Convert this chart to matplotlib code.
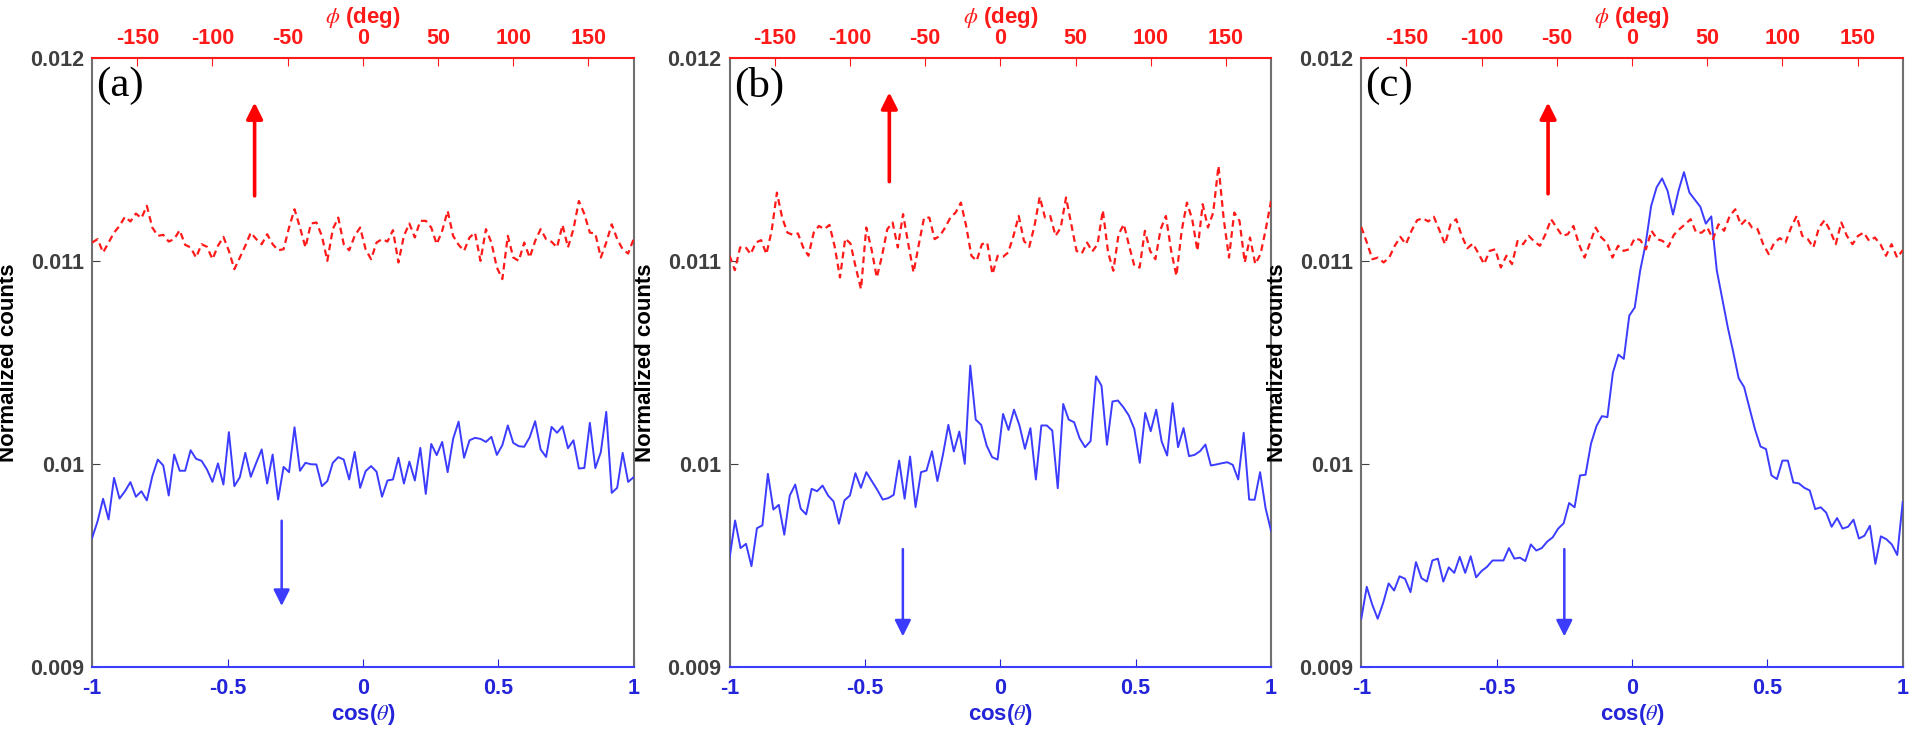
import numpy as np
import matplotlib
matplotlib.use('Agg')
import matplotlib.pyplot as plt

# normalized counts vs cos(theta) (blue) and vs phi (red)
blue_a = [0.009636, 0.009718, 0.009828, 0.009726, 0.009931, 0.009829, 0.009865, 0.009910, 0.009838, 0.009865,
          0.009820, 0.009939, 0.010021, 0.009992, 0.009844, 0.010046, 0.009966, 0.009966, 0.010067, 0.010025,
          0.010015, 0.009972, 0.009911, 0.010002, 0.009898, 0.010156, 0.009890, 0.009934, 0.010054, 0.009936,
          0.010005, 0.010071, 0.009903, 0.010046, 0.009824, 0.009985, 0.009959, 0.010180, 0.009966, 0.010005,
          0.009998, 0.009997, 0.009890, 0.009915, 0.010005, 0.010033, 0.010021, 0.009923, 0.010059, 0.009882,
          0.009964, 0.009989, 0.009961, 0.009838, 0.009918, 0.009923, 0.010030, 0.009903, 0.010011, 0.009918,
          0.010079, 0.009852, 0.010098, 0.010043, 0.010108, 0.009959, 0.010123, 0.010208, 0.010030, 0.010116,
          0.010128, 0.010123, 0.010108, 0.010133, 0.010044, 0.010092, 0.010189, 0.010103, 0.010087, 0.010084,
          0.010131, 0.010210, 0.010071, 0.010034, 0.010182, 0.010153, 0.010185, 0.010077, 0.010116, 0.009977,
          0.009980, 0.010202, 0.009979, 0.010057, 0.010256, 0.009857, 0.009882, 0.010054, 0.009911, 0.009934]
red_a = [0.011090, 0.011107, 0.011041, 0.011090, 0.011139, 0.011172, 0.011217, 0.011194, 0.011233, 0.011210,
         0.011271, 0.011164, 0.011123, 0.011128, 0.011095, 0.011107, 0.011151, 0.011079, 0.011066, 0.011016,
         0.011082, 0.011069, 0.011008, 0.011074, 0.011118, 0.011049, 0.010959, 0.011016, 0.011074, 0.011139,
         0.011107, 0.011082, 0.011131, 0.011082, 0.011052, 0.011057, 0.011164, 0.011254, 0.011164, 0.011066,
         0.011184, 0.011189, 0.011123, 0.011000, 0.011156, 0.011213, 0.011082, 0.011052, 0.011123, 0.011164,
         0.011057, 0.011008, 0.011090, 0.011107, 0.011095, 0.011151, 0.010992, 0.011123, 0.011184, 0.011115,
         0.011197, 0.011197, 0.011164, 0.011082, 0.011148, 0.011246, 0.011123, 0.011079, 0.011049, 0.011115,
         0.011139, 0.011000, 0.011156, 0.011090, 0.010967, 0.010910, 0.011123, 0.011016, 0.011000, 0.011090,
         0.011016, 0.011098, 0.011156, 0.011107, 0.011094, 0.011066, 0.011177, 0.011066, 0.011156, 0.011295,
         0.011230, 0.011139, 0.011135, 0.011016, 0.011090, 0.011180, 0.011107, 0.011057, 0.011036, 0.011107]

blue_b = [0.009536, 0.009721, 0.009585, 0.009606, 0.009496, 0.009683, 0.009697, 0.009951, 0.009775, 0.009798,
          0.009651, 0.009844, 0.009898, 0.009779, 0.009751, 0.009877, 0.009865, 0.009893, 0.009844, 0.009815,
          0.009705, 0.009820, 0.009844, 0.009954, 0.009882, 0.009959, 0.009915, 0.009872, 0.009824, 0.009831,
          0.009847, 0.010016, 0.009828, 0.010036, 0.009787, 0.009959, 0.009967, 0.010062, 0.009915, 0.010044,
          0.010192, 0.010061, 0.010159, 0.010000, 0.010484, 0.010218, 0.010192, 0.010090, 0.010033, 0.010021,
          0.010246, 0.010167, 0.010267, 0.010189, 0.010074, 0.010176, 0.009923, 0.010189, 0.010189, 0.010164,
          0.009880, 0.010295, 0.010218, 0.010205, 0.010126, 0.010082, 0.010112, 0.010431, 0.010385, 0.010094,
          0.010307, 0.010312, 0.010279, 0.010238, 0.010172, 0.010005, 0.010251, 0.010161, 0.010267, 0.010110,
          0.010041, 0.010299, 0.010082, 0.010176, 0.010038, 0.010044, 0.010062, 0.010095, 0.009992, 0.009997,
          0.010003, 0.010008, 0.009995, 0.009923, 0.010153, 0.009824, 0.009823, 0.009959, 0.009782, 0.009670]
red_b = [0.011025, 0.010954, 0.011066, 0.011069, 0.011033, 0.011090, 0.011102, 0.011033, 0.011148, 0.011336,
         0.011213, 0.011139, 0.011128, 0.011135, 0.011066, 0.011025, 0.011139, 0.011172, 0.011156, 0.011177,
         0.011069, 0.010918, 0.011110, 0.011085, 0.010967, 0.010861, 0.011164, 0.011057, 0.010918, 0.011025,
         0.011156, 0.011189, 0.011066, 0.011230, 0.011082, 0.010943, 0.011082, 0.011213, 0.011213, 0.011107,
         0.011123, 0.011164, 0.011213, 0.011238, 0.011287, 0.011172, 0.011025, 0.011000, 0.011082, 0.011090,
         0.010934, 0.011025, 0.011020, 0.011041, 0.011123, 0.011221, 0.011098, 0.011069, 0.011172, 0.011315,
         0.011213, 0.011221, 0.011123, 0.011164, 0.011312, 0.011180, 0.011049, 0.011036, 0.011090, 0.011046,
         0.011082, 0.011249, 0.011041, 0.010951, 0.011131, 0.011180, 0.011074, 0.010975, 0.010967, 0.011148,
         0.011049, 0.011008, 0.011156, 0.011221, 0.011049, 0.010926, 0.011148, 0.011287, 0.011205, 0.011049,
         0.011279, 0.011164, 0.011238, 0.011468, 0.011205, 0.011016, 0.011238, 0.011197, 0.010992, 0.011115,
         0.010984, 0.011033, 0.011156, 0.011295]

blue_c = [0.009237, 0.009394, 0.009307, 0.009237, 0.009315, 0.009411, 0.009376, 0.009446, 0.009434, 0.009368,
          0.009516, 0.009437, 0.009420, 0.009524, 0.009533, 0.009420, 0.009490, 0.009463, 0.009542, 0.009463,
          0.009545, 0.009441, 0.009472, 0.009493, 0.009524, 0.009524, 0.009524, 0.009585, 0.009533, 0.009538,
          0.009521, 0.009603, 0.009573, 0.009585, 0.009617, 0.009638, 0.009681, 0.009707, 0.009807, 0.009786,
          0.009943, 0.009946, 0.010099, 0.010186, 0.010235, 0.010230, 0.010448, 0.010538, 0.010517, 0.010730,
          0.010770, 0.010953, 0.011084, 0.011270, 0.011362, 0.011406, 0.011345, 0.011228, 0.011345, 0.011437,
          0.011336, 0.011301, 0.011266, 0.011183, 0.011219, 0.010953, 0.010814, 0.010674, 0.010552, 0.010422,
          0.010378, 0.010273, 0.010169, 0.010085, 0.010073, 0.009943, 0.009925, 0.010016, 0.010016, 0.009908,
          0.009904, 0.009882, 0.009869, 0.009777, 0.009786, 0.009760, 0.009690, 0.009733, 0.009681, 0.009690,
          0.009725, 0.009632, 0.009646, 0.009695, 0.009507, 0.009643, 0.009629, 0.009603, 0.009551, 0.009812]
red_c = [0.011167, 0.011090, 0.011008, 0.011016, 0.010992, 0.011016, 0.011074, 0.011118, 0.011082, 0.011148,
         0.011200, 0.011210, 0.011194, 0.011217, 0.011151, 0.011082, 0.011180, 0.011205, 0.011123, 0.011062,
         0.011085, 0.011036, 0.010984, 0.011049, 0.011057, 0.010967, 0.011025, 0.010984, 0.011098, 0.011082,
         0.011123, 0.011095, 0.011074, 0.011131, 0.011205, 0.011164, 0.011123, 0.011131, 0.011172, 0.011082,
         0.011016, 0.011090, 0.011164, 0.011115, 0.011090, 0.011016, 0.011074, 0.011049, 0.011057, 0.011112,
         0.011102, 0.011057, 0.011148, 0.011107, 0.011098, 0.011069, 0.011128, 0.011156, 0.011180, 0.011205,
         0.011139, 0.011139, 0.011164, 0.011107, 0.011180, 0.011148, 0.011221, 0.011254, 0.011177, 0.011205,
         0.011164, 0.011156, 0.011082, 0.011033, 0.011090, 0.011112, 0.011090, 0.011164, 0.011221, 0.011123,
         0.011107, 0.011066, 0.011164, 0.011200, 0.011148, 0.011082, 0.011189, 0.011123, 0.011082, 0.011123,
         0.011139, 0.011098, 0.011115, 0.011082, 0.011025, 0.011082, 0.011016, 0.011052]

# arrows: (x in cos(theta), tail y, head y)
red_arrows = [(-0.40, 0.01132, 0.01178), (-0.41, 0.01139, 0.01183), (-0.31, 0.01133, 0.01178)]
blue_arrows = [(-0.30, 0.00972, 0.00930), (-0.36, 0.00958, 0.00915), (-0.25, 0.00958, 0.00915)]

labels = ['(a)', '(b)', '(c)']
yticks = [0.009, 0.010, 0.011, 0.012]
ytick_labels = ['0.009', '0.01', '0.011', '0.012']
xticks = [-1, -0.5, 0, 0.5, 1]
xtick_labels = ['-1', '-0.5', '0', '0.5', '1']
phi_ticks = [-150, -100, -50, 0, 50, 100, 150]

BLUE = '#3c3cff'
BLUE_TXT = '#2424d8'
RED = '#ff1a1a'
GRAY = '#707070'

plt.rcParams['font.family'] = ['Liberation Sans', 'DejaVu Sans']
plt.rcParams['mathtext.fontset'] = 'stix'
plt.rcParams['axes.unicode_minus'] = False

fig = plt.figure(figsize=(19.2, 7.32), dpi=100)
lefts = [0.048, 0.380, 0.709]
blues = [blue_a, blue_b, blue_c]
reds = [red_a, red_b, red_c]

for i in range(3):
    ax = fig.add_axes([lefts[i], 0.089, 0.282, 0.832])
    x = np.linspace(-1, 1, len(blues[i]))
    ax.plot(x, blues[i], color=BLUE, lw=1.4, zorder=3)
    ax.set_xlim(-1, 1)
    ax.set_ylim(0.009, 0.012)
    ax.set_xticks(xticks)
    ax.set_xticklabels(xtick_labels)
    ax.set_yticks(yticks)
    ax.set_yticklabels(ytick_labels)
    ax.tick_params(axis='x', colors=BLUE_TXT, direction='in', length=6, labelsize=15.5, pad=8)
    ax.tick_params(axis='y', colors='#404040', direction='in', length=6, labelsize=15.5, pad=6)
    for t in ax.get_xticklabels() + ax.get_yticklabels():
        t.set_fontweight('bold')
    ax.spines['bottom'].set_color(BLUE)
    ax.spines['left'].set_color(GRAY)
    ax.spines['right'].set_color(GRAY)
    ax.spines['top'].set_visible(False)
    for s in ax.spines.values():
        s.set_linewidth(1.5)
    ax.set_xlabel(r'cos($\theta$)', color=BLUE_TXT, fontsize=16, fontweight='bold', labelpad=2)
    ax.set_ylabel('Normalized counts', fontsize=16, fontweight='bold', labelpad=8)

    ax2 = ax.twiny()
    phi = np.linspace(-180, 180, len(reds[i]))
    ax2.plot(phi, reds[i], color=RED, lw=1.6, ls=(0, (3, 2)), zorder=2)
    ax2.set_xlim(-180, 180)
    ax2.set_xticks(phi_ticks)
    ax2.tick_params(axis='x', colors=RED, direction='in', length=6, labelsize=15.5, pad=6)
    for t in ax2.get_xticklabels():
        t.set_fontweight('bold')
    for k in ['bottom', 'left', 'right']:
        ax2.spines[k].set_visible(False)
    ax2.spines['top'].set_color(RED)
    ax2.spines['top'].set_linewidth(1.5)
    ax2.set_xlabel(r'$\phi$ (deg)', color=RED, fontsize=16, fontweight='bold', labelpad=4)

    xr, t0, t1 = red_arrows[i]
    ax.annotate('', xy=(xr, t1), xytext=(xr, t0),
                arrowprops=dict(arrowstyle='-|>,head_length=0.7,head_width=0.35', color='red',
                                lw=2.6, shrinkA=0, shrinkB=0, mutation_scale=14))
    xb, t0, t1 = blue_arrows[i]
    ax.annotate('', xy=(xb, t1), xytext=(xb, t0),
                arrowprops=dict(arrowstyle='-|>,head_length=0.7,head_width=0.35', color=BLUE,
                                lw=1.8, shrinkA=0, shrinkB=0, mutation_scale=14))

    ax.text(0.008, 0.985, labels[i], transform=ax.transAxes, ha='left', va='top',
            fontsize=31, family=['Liberation Serif', 'DejaVu Serif'])

fig.savefig('out.png', dpi=100)
